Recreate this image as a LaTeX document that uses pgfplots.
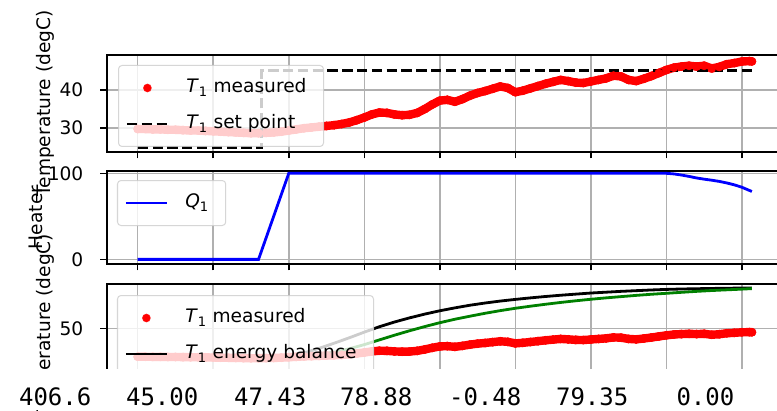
\documentclass[border=0pt]{standalone}
\usepackage{fontspec}
\setmainfont{DejaVu Sans}
\newfontfamily\monofont{DejaVu Sans Mono}
\usepackage{pgfplots}
\pgfplotsset{compat=1.18}
\usepackage{pgfplotstable}
\definecolor{gridgray}{HTML}{B0B0B0}
\definecolor{mplgreen}{rgb}{0,0.5,0}
\definecolor{legedge}{HTML}{CCCCCC}

\pgfplotstableread{
t T
0 29.8
5 29.8
10 29.7
15 29.7
20 29.6
25 29.6
30 29.5
35 29.4
40 29.4
45 29.3
50 29.2
55 29.1
60 29.0
65 28.9
70 28.8
75 28.7
80 28.7
85 28.8
90 28.9
95 29.1
100 29.4
105 29.7
110 30.0
115 30.2
120 30.4
125 30.6
130 30.8
135 31.1
140 31.5
145 32.1
150 32.8
155 33.6
160 34.1
165 34.0
170 33.6
175 33.4
180 33.5
185 34.0
190 35.0
195 36.2
200 37.2
205 37.4
210 36.9
215 37.6
220 38.5
225 39.2
230 39.7
235 40.3
240 40.9
245 40.5
250 39.4
255 39.8
260 40.4
265 41.0
270 41.6
275 42.1
280 42.6
285 42.3
290 41.9
295 41.8
300 42.2
305 42.6
310 43.0
315 43.7
320 43.5
325 42.6
330 42.3
335 42.9
340 43.6
345 44.4
350 45.2
355 45.8
360 46.1
365 46.3
370 46.1
375 46.3
380 45.6
385 46.0
390 46.7
395 47.0
400 47.4
405 47.5
406.6 47.43
}\measured

\pgfplotstableread{
t T
0 29.8
20 29.5
40 29.2
60 28.9
80 28.6
90 28.8
100 30.0
110 32.5
120 35.8
130 39.5
140 43.4
150 47.5
160 51.4
170 54.8
180 57.8
190 60.5
200 62.9
210 65.0
220 66.9
230 68.5
240 69.9
250 71.1
260 72.2
270 73.2
280 74.1
290 74.9
300 75.7
310 76.3
320 76.9
330 77.4
340 77.9
350 78.3
360 78.6
370 78.8
380 79.0
390 79.15
400 79.3
406.6 79.35
}\energyblack

\pgfplotstableread{
t T
0 29.8
20 29.5
40 29.2
60 28.9
80 28.6
90 28.6
100 28.9
110 29.7
120 31.1
130 33.0
140 35.5
150 38.5
160 41.9
170 45.3
180 48.5
190 51.5
200 54.3
210 56.8
220 59.0
230 61.1
240 63.0
250 64.7
260 66.2
270 67.6
280 68.9
290 70.1
300 71.2
310 72.2
320 73.1
330 74.0
340 74.8
350 75.5
360 76.2
370 76.9
380 77.5
390 78.0
400 78.5
406.6 78.88
}\energygreen

\pgfplotstableread{
t Q
0 0
80 0
100 100
350 100
355 99.3
360 98.0
365 96.4
370 94.6
375 93.2
380 92.0
385 90.6
390 88.8
395 86.6
400 83.8
404 80.8
406.6 78.9
}\heater

\pgfplotsset{
  mplaxis/.style={
    scale only axis,
    width=675.6pt,
    xmin=-20.33, xmax=426.93,
    axis background/.style={fill=white},
    axis line style={black, line width=1.5pt},
    grid=major,
    major grid style={gridgray, line width=1.5pt},
    tick align=outside,
    major tick length=6.5pt,
    every tick/.style={black, line width=1.5pt},
    xtick={0,50,100,150,200,250,300,350,400},
    xtick pos=left, ytick pos=left,
    /pgf/number format/assume math mode=true,
    tick label style={font=\fontsize{18.6}{22}\selectfont},
    xticklabel style={anchor=north, inner sep=0pt, yshift=-15pt},
    yticklabel style={anchor=east, inner sep=0pt, xshift=-17pt},
    every axis y label/.style={at={(axis description cs:-0.0918,0.5)}, rotate=90, anchor=center, inner sep=0pt, font=\fontsize{18.6}{22}\selectfont},
    legend style={fill=white, fill opacity=0.8, draw=legedge, draw opacity=0.8, text opacity=1, rounded corners=3.5pt, line width=1pt, inner xsep=7pt, inner ysep=14pt, row sep=19pt, anchor=north west, font=\fontsize{18.6}{22}\selectfont, nodes={inner sep=0pt, text height=13pt, text depth=4pt, text opacity=1}},
    legend cell align=left,
  },
  dotleg/.style={legend image code/.code={\fill[red, fill opacity=1] (20.5pt,0pt) circle (3.8pt); \path (0pt,0pt) (58pt,0pt);}},
  lineleg/.style={legend image code/.code={\draw[##1, draw opacity=1] (0pt,0pt) -- (41pt,0pt); \path (58pt,0pt);}},
  redband/.style={red, line width=8.4pt, line cap=round, line join=round, forget plot},
  reddots/.style={only marks, mark=*, mark size=4.2pt, color=red, mark options={fill=red, draw=red}, dotleg},
}

\begin{document}
{\fontsize{18.6pt}{22pt}\selectfont
\begin{tikzpicture}
\useasboundingbox (0pt,0pt) rectangle (777pt,410pt);
\clip (0pt,0pt) rectangle (777pt,410pt);

% top panel
\begin{axis}[mplaxis, at={(107pt,258pt)}, anchor=south west, height=97pt,
  ymin=23.8, ymax=49.1, ytick={30,40},
  ylabel={Temperature (degC)},
  legend style={at={(0.0163,0.897)}}]
\addplot[redband] table[x=t,y=T]{\measured};
\addplot[reddots] table[x=t,y=T]{\measured};
\addlegendentry{\textit{T}\textsubscript{1} measured\kern10pt}
\addplot[black, line width=2.8pt, dash pattern=on 10.3pt off 4.5pt, lineleg] coordinates {(0,25) (82,25) (82,45) (406.6,45)};
\addlegendentry{\textit{T}\textsubscript{1} set point}
\end{axis}

% middle panel
\begin{axis}[mplaxis, at={(107pt,146pt)}, anchor=south west, height=93pt,
  ymin=-5.4, ymax=102.7, ytick={0,100},
  xticklabel style={yshift=-2pt},
  ylabel={Heater},
  every axis y label/.append style={at={(axis description cs:-0.1058,0.5)}},
  legend style={at={(0.0148,0.903)}}]
\addplot[blue, line width=2.8pt, lineleg] table[x=t,y=Q]{\heater};
\addlegendentry{\textit{Q}\textsubscript{1}\kern10pt}
\end{axis}

% bottom panel
\begin{axis}[mplaxis, at={(107pt,40pt)}, anchor=south west, height=86pt,
  ymin=20.2, ymax=82.2, ytick={50}, xticklabels={},
  ylabel={Temperature (degC)},
  legend style={at={(0.0148,0.872)}}]
\addplot[redband] table[x=t,y=T]{\measured};
\addplot[reddots] table[x=t,y=T]{\measured};
\addlegendentry{\textit{T}\textsubscript{1} measured}
\addplot[black, line width=2.8pt, lineleg] table[x=t,y=T]{\energyblack};
\addlegendentry{\textit{T}\textsubscript{1} energy balance\kern10pt}
\addplot[mplgreen, line width=2.8pt, forget plot] table[x=t,y=T]{\energygreen};
\end{axis}

% printed output line
\fill[white] (0pt,0pt) rectangle (777pt,41pt);
\begin{scope}[every node/.style={anchor=base east, inner sep=0pt, font=\monofont\fontsize{24}{28}\selectfont}]
\node at (91.5pt,5pt) {406.6};
\node at (198.5pt,5pt) {45.00};
\node at (306.5pt,5pt) {47.43};
\node at (412.5pt,5pt) {78.88};
\node at (521.5pt,5pt) {-0.48};
\node at (628.5pt,5pt) {79.35};
\node at (734.5pt,5pt) {0.00};
\end{scope}
\end{tikzpicture}}
\end{document}
